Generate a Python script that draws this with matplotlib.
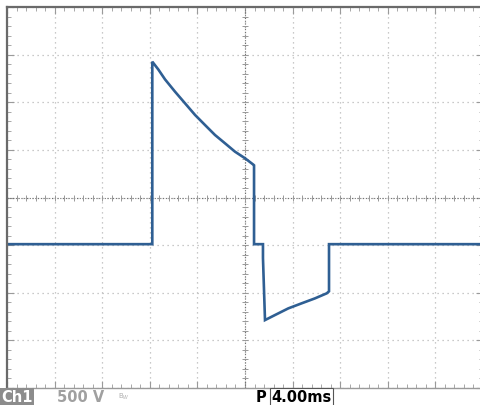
import numpy as np
import matplotlib.pyplot as plt

# scope settings
ms_per_div = 4.0
volts_per_div = 500.0
n_xdiv = 10
n_ydiv = 8

# trace (time in ms, voltage in V)
t_ms = [-20.0, -7.79, -7.79, -7.29, -6.72, -5.88, -5.04, -4.20, -3.36, -2.52,
        -1.68, -0.84, 0.0, 0.70, 0.76,
        0.76, 1.51, 1.51, 1.68, 2.52, 3.64, 4.76, 5.88, 6.87, 7.06, 7.06, 20.0]
v_volts = [-490, -490, 1426, 1345, 1240, 1111, 989, 867, 761, 656,
           569, 481, 412, 345, 338,
           -490, -490, -635, -1287, -1234, -1164, -1111, -1059, -1006, -985, -490, -490]

ch_label = "Ch1"
scale_label = "500 V"
time_label = "4.00ms"

fig = plt.figure(figsize=(4.8, 4.05), dpi=100)
W, H = 480, 405
ax = fig.add_axes([7 / W, (H - 388) / H, 476 / W, 381 / H])

xmax = ms_per_div * n_xdiv / 2
ymax = volts_per_div * n_ydiv / 2
ax.set_xlim(-xmax, xmax)
ax.set_ylim(-ymax, ymax)

# graticule
xmaj = np.arange(-xmax, xmax + 0.01, ms_per_div)
ymaj = np.arange(-ymax, ymax + 0.01, volts_per_div)
xmin = np.arange(-xmax, xmax + 0.01, ms_per_div / 5)
ymin = np.arange(-ymax, ymax + 0.01, volts_per_div / 5)
ax.set_xticks(xmaj)
ax.set_yticks(ymaj)
ax.set_xticks(xmin, minor=True)
ax.set_yticks(ymin, minor=True)
ax.tick_params(which='both', direction='in', top=True, right=True,
               labelbottom=False, labelleft=False, color='#9a9a9a')
ax.tick_params(which='major', length=5, width=0.8)
ax.tick_params(which='minor', length=3, width=0.6)
ax.grid(which='major', color='#b8b8b8', linestyle=(0, (1, 3)), linewidth=0.9)

# center cross with tick marks
ax.axhline(0, color='#707070', linestyle=(0, (1, 1.5)), linewidth=0.8)
ax.axvline(0, color='#707070', linestyle=(0, (1, 1.5)), linewidth=0.8)
ax.plot(xmin, np.zeros_like(xmin), linestyle='none', marker='|',
        markersize=5, color='#999999', markeredgewidth=0.7)
ax.plot(np.zeros_like(ymin), ymin, linestyle='none', marker='_',
        markersize=5, color='#999999', markeredgewidth=0.7)

for side in ['left', 'top']:
    ax.spines[side].set_color('#6a6a6a')
    ax.spines[side].set_linewidth(1.6)
ax.spines['bottom'].set_color('#9a9a9a')
ax.spines['bottom'].set_linewidth(1.0)
ax.spines['right'].set_visible(False)

# waveform
ax.plot(t_ms, v_volts, color='#2f5f93', linewidth=1.9, solid_joinstyle='miter')

# status bar
ybar = 1 - 397 / H
fig.text(1 / W, ybar, ch_label, color='white', fontsize=10.5, fontweight='bold',
         va='center', ha='left',
         bbox=dict(boxstyle='square,pad=0.12', facecolor='#8c8c8c', edgecolor='none'))
fig.text(57 / W, ybar, scale_label, color='#a0a0a0', fontsize=10.5,
         fontweight='bold', va='center', ha='left')
fig.text(118 / W, ybar, "B$_W$", color='#b0b0b0', fontsize=5,
         va='center', ha='left')
fig.text(256 / W, ybar, "P", color='black', fontsize=10.5, fontweight='bold',
         va='center', ha='left')
fig.text(271 / W, ybar, time_label, color='black', fontsize=10.5,
         fontweight='bold', va='center', ha='left',
         bbox=dict(boxstyle='square,pad=0.1', facecolor='white', edgecolor='#555555',
                   linewidth=0.8))

fig.savefig('out.png', dpi=100)
